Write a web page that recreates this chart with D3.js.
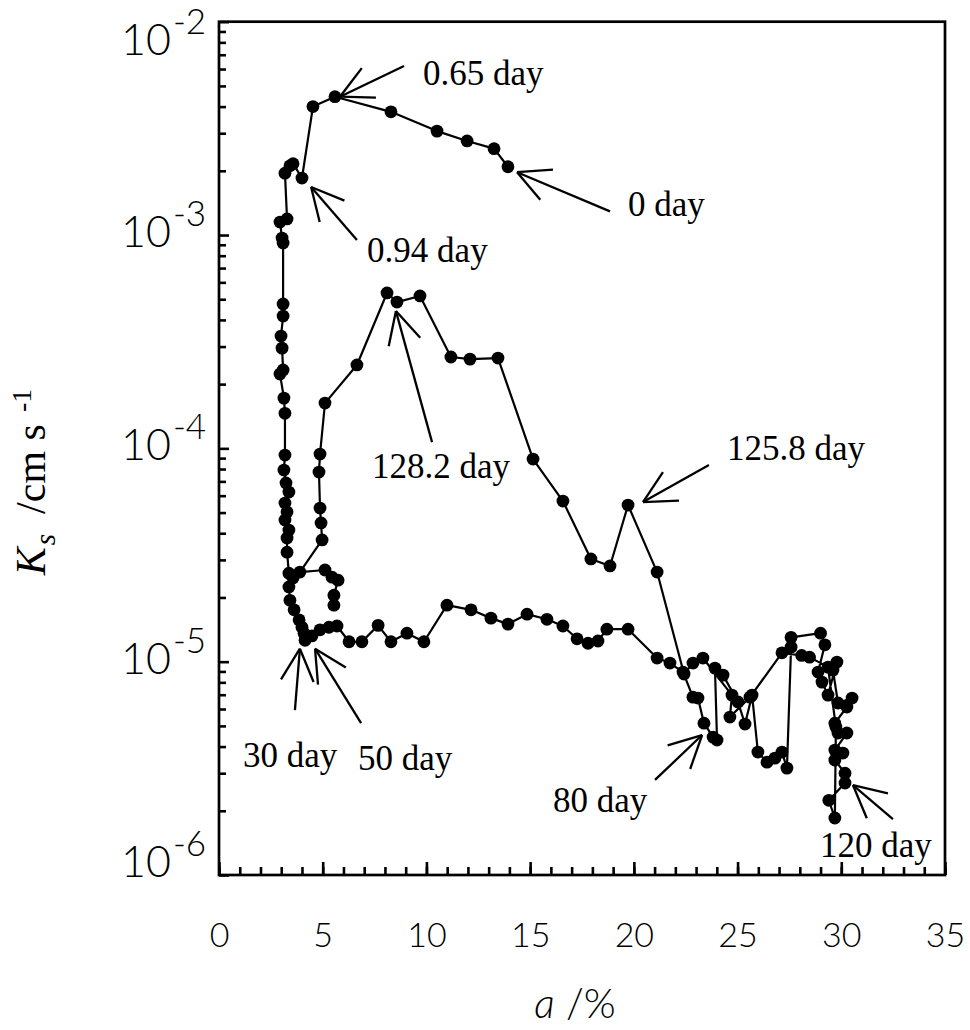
<!DOCTYPE html>
<html>
<head>
<meta charset="utf-8">
<script src="https://cdn.jsdelivr.net/npm/d3@7"></script>
<style>
  body { margin: 0; background: #fff; }
  .sans { font-family: Lato, "Open Sans", "DejaVu Sans", sans-serif; font-weight: 300; }
  .serif { font-family: "Liberation Serif", "Times New Roman", serif; }
</style>
</head>
<body>
<svg width="970" height="1030"></svg>
<script>
// a (%) vs Ks (cm/s), one sample followed through time
// 0 day -> 0.65 day peak -> 0.94 day -> down to 30 day
const seg0to30 = [
  [13.93, 2.09e-3], [13.26, 2.54e-3], [11.96, 2.76e-3], [10.51, 3.07e-3], [8.29, 3.78e-3],
  [5.59, 4.45e-3], [4.53, 4.0e-3], [4.00, 1.85e-3], [3.57, 2.16e-3], [3.42, 2.11e-3],
  [3.18, 1.95e-3], [3.28, 1.19e-3], [2.94, 1.15e-3], [3.04, 9.68e-4], [3.09, 9.17e-4],
  [3.09, 4.75e-4], [3.09, 4.17e-4], [2.99, 3.36e-4], [3.04, 2.95e-4], [3.09, 2.33e-4],
  [2.94, 2.23e-4], [3.13, 1.72e-4], [3.18, 1.46e-4], [3.18, 9.30e-5], [3.13, 7.91e-5],
  [3.23, 6.88e-5], [3.37, 6.24e-5], [3.18, 5.54e-5], [3.28, 5.03e-5], [3.18, 4.61e-5],
  [3.37, 4.14e-5], [3.28, 3.80e-5], [3.28, 3.26e-5], [3.37, 2.60e-5], [3.57, 2.47e-5],
  [3.37, 2.24e-5], [3.42, 1.94e-5], [3.62, 1.75e-5], [3.86, 1.57e-5], [4.00, 1.45e-5],
  [4.10, 1.36e-5], [4.15, 1.26e-5]
];
// 50 day -> 80 day -> 120 day
const seg50to120 = [
  [4.48, 1.32e-5], [4.87, 1.41e-5], [5.30, 1.45e-5], [5.69, 1.47e-5], [6.27, 1.24e-5],
  [6.89, 1.24e-5], [7.67, 1.48e-5], [8.29, 1.24e-5], [9.06, 1.36e-5], [9.88, 1.24e-5],
  [10.99, 1.84e-5], [12.15, 1.75e-5], [13.11, 1.60e-5], [13.93, 1.50e-5], [14.85, 1.67e-5],
  [15.81, 1.58e-5], [16.58, 1.47e-5], [17.26, 1.28e-5], [17.79, 1.22e-5], [18.27, 1.25e-5],
  [18.70, 1.42e-5], [19.72, 1.42e-5], [21.12, 1.04e-5], [21.74, 9.85e-6], [22.37, 8.94e-6],
  [22.85, 6.82e-6], [23.09, 6.75e-6], [23.38, 5.15e-6], [23.82, 4.43e-6], [24.01, 4.29e-6],
  [23.91, 9.33e-6], [24.30, 8.65e-6], [25.02, 6.47e-6], [25.36, 5.10e-6], [25.70, 6.97e-6],
  [25.98, 3.77e-6], [26.42, 3.38e-6], [26.80, 3.53e-6], [27.14, 3.77e-6], [27.38, 3.17e-6],
  [27.58, 1.17e-5], [27.58, 1.30e-5], [29.00, 1.36e-5], [29.21, 1.20e-5], [28.88, 8.94e-6],
  [29.07, 8.02e-6], [29.36, 6.97e-6], [29.79, 9.96e-6], [29.60, 9.13e-6], [29.84, 6.40e-6],
  [30.52, 6.75e-6], [30.27, 6.13e-6], [29.69, 5.15e-6], [29.84, 4.63e-6], [30.27, 4.63e-6],
  [29.69, 3.85e-6], [30.08, 3.73e-6], [29.69, 3.46e-6], [30.18, 3.00e-6], [30.18, 2.70e-6]
];
// after 120 day -> 125.8 day -> 128.2 day -> end
const seg120toEnd = [
  [29.40, 2.24e-6], [29.69, 1.85e-6], [29.74, 4.94e-6], [29.36, 9.43e-6], [28.47, 1.05e-5],
  [28.09, 1.07e-5], [27.14, 1.10e-5], [25.60, 6.82e-6], [24.63, 5.50e-6], [24.73, 6.97e-6],
  [23.33, 1.04e-5], [22.85, 9.85e-6], [22.42, 8.75e-6], [21.12, 2.63e-5], [19.72, 5.42e-5],
  [18.85, 2.81e-5], [17.93, 3.03e-5], [16.58, 5.66e-5], [15.14, 8.91e-5], [13.45, 2.65e-4],
  [12.10, 2.62e-4], [11.18, 2.68e-4], [9.69, 5.18e-4], [8.58, 4.85e-4], [8.10, 5.35e-4],
  [6.65, 2.46e-4], [5.11, 1.63e-4], [4.87, 9.40e-5], [4.82, 7.74e-5], [4.87, 5.25e-5],
  [4.92, 4.47e-5], [4.97, 3.72e-5], [3.90, 2.63e-5], [5.11, 2.69e-5], [5.45, 2.49e-5],
  [5.74, 2.41e-5], [5.54, 2.05e-5], [5.54, 1.84e-5]
];

// day labels: arrow tip, arrow tail, label anchor (all in data units)
const notes = [
  { text: '0.65 day', tip: [5.83, 4.45e-3], tail: [8.92, 6.20e-3], at: [9.83, 5.05e-3] },
  { text: '0 day', tip: [14.37, 1.97e-3], tail: [18.85, 1.29e-3], at: [19.72, 1.23e-3] },
  { text: '0.94 day', tip: [4.44, 1.68e-3], tail: [6.65, 9.47e-4], at: [7.14, 7.47e-4] },
  { text: '128.2 day', tip: [8.53, 4.40e-4], tail: [10.27, 1.07e-4], at: [7.38, 7.26e-5] },
  { text: '125.8 day', tip: [20.44, 5.60e-5], tail: [23.62, 8.35e-5], at: [24.49, 8.81e-5] },
  { text: '30 day', tip: [3.90, 1.15e-5], tail: [3.66, 5.93e-6], at: [1.16, 3.21e-6] },
  { text: '50 day', tip: [4.63, 1.15e-5], tail: [6.85, 5.15e-6], at: [6.70, 3.10e-6] },
  { text: '80 day', tip: [23.29, 4.53e-6], tail: [21.02, 2.79e-6], at: [16.10, 1.97e-6] },
  { text: '120 day', tip: [30.56, 2.64e-6], tail: [32.49, 1.83e-6], at: [28.97, 1.21e-6] }
];

const xMajorTicks = [0, 5, 10, 15, 20, 25, 30, 35];
const yExponents = [-2, -3, -4, -5, -6];
const xAxisLabel = 'a';
const xAxisUnit = ' /%';

const svg = d3.select('svg');
const plotL = 219, plotR = 945, plotT = 21.7, plotB = 875;

const x = d3.scaleLinear().domain([0, 35]).range([plotL, plotR]);
const y = d3.scaleLog().domain([1e-6, 1e-2]).range([plotB, plotT]);

const data = seg0to30.concat(seg50to120, seg120toEnd);

// ticks (pointing inward)
const minorY = [];
for (let e = -6; e < -2; e++) for (let m = 2; m <= 9; m++) minorY.push(m * Math.pow(10, e));
const majorY = yExponents.map(e => Math.pow(10, e));

const tickStyle = g => {
  g.select('.domain').remove();
  g.selectAll('line').attr('stroke', '#000').attr('stroke-width', 2.6);
};

svg.append('g').attr('transform', `translate(${plotL},0)`)
  .call(d3.axisLeft(y).tickValues(minorY).tickSize(-7).tickFormat(''))
  .call(tickStyle);
svg.append('g').attr('transform', `translate(${plotL},0)`)
  .call(d3.axisLeft(y).tickValues(majorY).tickSize(-10).tickFormat(''))
  .call(tickStyle);

svg.append('g').attr('transform', `translate(0,${plotB})`)
  .call(d3.axisBottom(x).tickValues(d3.range(0, 36)).tickSize(-8).tickFormat(''))
  .call(tickStyle);
svg.append('g').attr('transform', `translate(0,${plotB})`)
  .call(d3.axisBottom(x).tickValues(xMajorTicks).tickSize(-13).tickFormat(''))
  .call(tickStyle);

// x tick labels
const xLabels = svg.append('g').attr('transform', `translate(0,${plotB})`)
  .call(d3.axisBottom(x).tickValues(xMajorTicks).tickSize(0).tickPadding(48).tickFormat(d3.format('d')));
xLabels.select('.domain').remove();
xLabels.selectAll('text')
  .attr('class', 'sans')
  .attr('font-size', 34)
  .attr('fill', '#000');

// y tick labels: 10 with superscript exponent
const yLab = svg.append('g').selectAll('text')
  .data(yExponents)
  .join('text')
  .attr('class', 'sans')
  .attr('x', 121)
  .attr('y', e => Math.max(55, Math.min(877, y(Math.pow(10, e)) + 12)))
  .attr('font-size', 43)
  .attr('fill', '#000');
yLab.append('tspan').text('10');
yLab.append('tspan').attr('dx', 2).attr('dy', -21).attr('font-size', 35).text(e => '-' + Math.abs(e));

// frame
svg.append('rect')
  .attr('x', plotL).attr('y', plotT)
  .attr('width', plotR - plotL).attr('height', plotB - plotT)
  .attr('fill', 'none').attr('stroke', '#000').attr('stroke-width', 2.7);

// series line and markers
const line = d3.line().x(d => x(d[0])).y(d => y(d[1]));
svg.append('path')
  .attr('d', line(data))
  .attr('fill', 'none')
  .attr('stroke', '#000')
  .attr('stroke-width', 2.2)
  .attr('stroke-linejoin', 'round');

svg.append('g').selectAll('circle')
  .data(data)
  .join('circle')
  .attr('cx', d => x(d[0]))
  .attr('cy', d => y(d[1]))
  .attr('r', 6.4)
  .attr('fill', '#000');

// annotations with open arrowheads
const headLen = 36, headAng = 27 * Math.PI / 180;
const ann = svg.append('g').attr('stroke', '#000').attr('stroke-width', 2.3).attr('fill', 'none');
notes.forEach(n => {
  const tx = x(n.tip[0]), ty = y(n.tip[1]);
  const sx = x(n.tail[0]), sy = y(n.tail[1]);
  const ang = Math.atan2(sy - ty, sx - tx);
  ann.append('line').attr('x1', tx).attr('y1', ty).attr('x2', sx).attr('y2', sy);
  [-headAng, headAng].forEach(da => {
    ann.append('line')
      .attr('x1', tx).attr('y1', ty)
      .attr('x2', tx + headLen * Math.cos(ang + da))
      .attr('y2', ty + headLen * Math.sin(ang + da));
  });
});

svg.append('g').selectAll('text')
  .data(notes)
  .join('text')
  .attr('class', 'serif')
  .attr('x', d => x(d.at[0]))
  .attr('y', d => y(d.at[1]))
  .attr('font-size', 35)
  .attr('fill', '#000')
  .text(d => d.text);

// axis titles
const xt = svg.append('text')
  .attr('class', 'sans')
  .attr('x', 575).attr('y', 1018)
  .attr('text-anchor', 'middle')
  .attr('font-size', 41)
  .attr('fill', '#000');
xt.append('tspan').attr('font-style', 'italic').text(xAxisLabel);
xt.append('tspan').text(xAxisUnit);

const yt = svg.append('text')
  .attr('class', 'serif')
  .attr('transform', 'translate(45,482) rotate(-90)')
  .attr('text-anchor', 'middle')
  .attr('font-size', 42)
  .attr('fill', '#000');
yt.append('tspan').attr('font-style', 'italic').text('K');
yt.append('tspan').attr('font-style', 'italic').attr('font-size', 29).attr('dy', 10).attr('dx', 2).text('s');
yt.append('tspan').attr('dy', -10).attr('dx', 20).text('/cm s');
yt.append('tspan').attr('font-size', 28).attr('dy', -14).attr('dx', 12).text('-1');
</script>
</body>
</html>
